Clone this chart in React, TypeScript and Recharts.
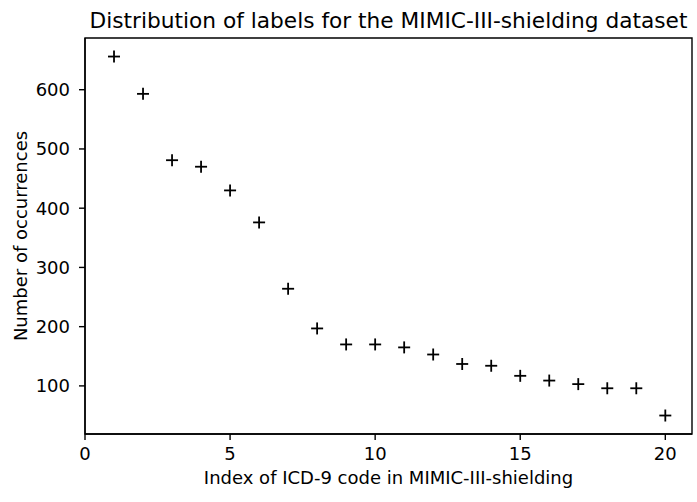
import React from "react";
import { ScatterChart, Scatter, XAxis, YAxis, ReferenceArea } from "recharts";

const labelIndex = [1, 2, 3, 4, 5, 6, 7, 8, 9, 10, 11, 12, 13, 14, 15, 16, 17, 18, 19, 20];
const occurrences = [656, 593, 481, 470, 430, 376, 264, 197, 170, 170, 165, 153, 137, 134, 117, 109, 103, 96, 96, 50];
const xTicks = [0, 5, 10, 15, 20];
const yTicks = [100, 200, 300, 400, 500, 600];
const title = "Distribution of labels for the MIMIC-III-shielding dataset";
const xLabel = "Index of ICD-9 code in MIMIC-III-shielding";
const yLabel = "Number of occurrences";

const X_DOMAIN: [number, number] = [0, 20.92];
const Y_DOMAIN: [number, number] = [18.8, 687.3];

const data = labelIndex.map((x, i) => ({ x, y: occurrences[i] }));

const FONT = "'DejaVu Sans', sans-serif";
const FS = 18;

const Plus = (props: any) => {
  const { cx, cy } = props;
  const h = 6;
  return (
    <g>
      <line x1={cx - h} y1={cy} x2={cx + h} y2={cy} stroke="#000" strokeWidth={1.8} />
      <line x1={cx} y1={cy - h} x2={cx} y2={cy + h} stroke="#000" strokeWidth={1.8} />
    </g>
  );
};

export default function App() {
  return (
    <div style={{ position: "absolute", left: 0, top: 0, width: 697, height: 502, background: "#fff", fontFamily: FONT }}>
      <div
        style={{
          position: "absolute",
          left: 0,
          width: 777,
          top: 8,
          textAlign: "center",
          fontSize: 21.7,
          lineHeight: "26px",
          color: "#000",
          whiteSpace: "nowrap",
        }}
      >
        {title}
      </div>
      <ScatterChart width={697} height={502} margin={{ top: 38, right: 5, bottom: 0, left: 0 }}>
        <XAxis
          type="number"
          dataKey="x"
          domain={X_DOMAIN}
          ticks={xTicks}
          allowDataOverflow
          height={68}
          axisLine={{ stroke: "#000", strokeWidth: 1.4 }}
          tickLine={{ stroke: "#000", strokeWidth: 1.4 }}
          tickSize={6}
          tick={{ fill: "#000", fontSize: FS, fontFamily: FONT, dy: 5.5 }}
          label={{ value: xLabel, position: "insideBottom", offset: 18, fill: "#000", fontSize: FS, fontFamily: FONT }}
        />
        <YAxis
          type="number"
          dataKey="y"
          domain={Y_DOMAIN}
          ticks={yTicks}
          allowDataOverflow
          width={85}
          axisLine={{ stroke: "#000", strokeWidth: 1.4 }}
          tickLine={{ stroke: "#000", strokeWidth: 1.4 }}
          tickSize={6}
          tick={{ fill: "#000", fontSize: FS, fontFamily: FONT, dx: -7 }}
          label={{ value: yLabel, angle: -90, position: "insideLeft", offset: 21, fill: "#000", fontSize: FS, fontFamily: FONT, style: { textAnchor: "middle" } }}
        />
        <ReferenceArea
          x1={X_DOMAIN[0]}
          x2={X_DOMAIN[1]}
          y1={Y_DOMAIN[0]}
          y2={Y_DOMAIN[1]}
          fill="none"
          stroke="#000"
          strokeWidth={1.4}
          ifOverflow="extendDomain"
        />
        <Scatter data={data} shape={<Plus />} isAnimationActive={false} />
      </ScatterChart>
    </div>
  );
}
